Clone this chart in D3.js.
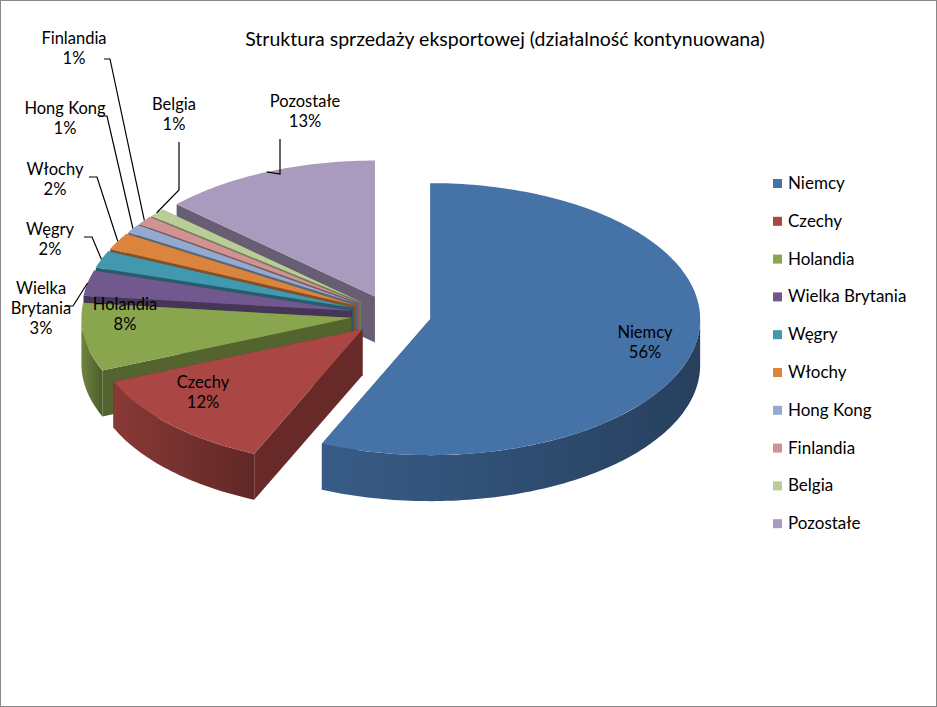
<!DOCTYPE html>
<html><head><meta charset="utf-8">
<script src="https://cdn.jsdelivr.net/npm/d3@7"></script>
<style>body{margin:0;background:#fff}svg{font-family:Lato,"Open Sans",sans-serif}</style>
</head><body><svg id="c" width="937" height="707"></svg>
<script>
const categories=["Niemcy","Czechy","Holandia","Wielka Brytania","Węgry","Włochy","Hong Kong","Finlandia","Belgia","Pozostałe"];
const values=[56,12,8,3,2,2,1,1,1,13];
const colors=["#4572a7","#aa4643","#89a54e","#71588f","#4198af","#db843d","#93a9cf","#d19392","#b9cd96","#a99bbd"];
const labelText=["Niemcy\n56%","Czechy\n12%","Holandia\n8%","Wielka\nBrytania\n3%","Węgry\n2%","Włochy\n2%","Hong Kong\n1%","Finlandia\n1%","Belgia\n1%","Pozostałe\n13%"];
const labelPos=[[645,338],[203,388],[125,310],[41,294],[50,235],[55,175],[65,114],[74,44],[174,110],[305,107]];
const inside=[true,true,true,false,false,false,false,false,false,false];

const svg=d3.select("#c");
svg.append("rect").attr("x",0.5).attr("y",0.5).attr("width",936).attr("height",706).attr("fill","#fff").attr("stroke","#888");
svg.append("text").attr("x",505).attr("y",46).attr("text-anchor","middle").attr("font-size",19.5).text("Struktura sprzedaży eksportowej (działalność kontynuowana)");

const cx=391,cy=315,rx=270,ry=136,depth=46,expl=40;
const total=d3.sum(values);
const pie=d3.pie().sort(null).value(d=>d)(values.map(v=>v/total*99));
const P=(ox,oy,t,dz=0)=>[ox+rx*Math.sin(t),oy-ry*Math.cos(t)+dz];
const darker=(c,k)=>d3.color(c).darker(k).toString();
const slices=pie.map((p,i)=>{
  const mid=(p.startAngle+p.endAngle)/2;
  const ox=cx+expl*Math.sin(mid), oy=cy-expl*(ry/rx)*Math.cos(mid);
  return {i,a0:p.startAngle,a1:p.endAngle,mid,ox,oy};
});
function arcPts(s,a0,a1,dz){const n=Math.max(2,Math.ceil((a1-a0)/0.02));return d3.range(n+1).map(k=>P(s.ox,s.oy,a0+(a1-a0)*k/n,dz));}
const line=d3.line();
const g=svg.append("g");
const order=slices.slice().sort((a,b)=>(a.oy-ry*Math.cos(a.mid)*0.5)-(b.oy-ry*Math.cos(b.mid)*0.5));
order.forEach(s=>{
  const c=colors[s.i];
  const C=[s.ox,s.oy],Cb=[s.ox,s.oy+depth];
  [s.a0,s.a1].forEach(a=>{
    const e=P(s.ox,s.oy,a),eb=P(s.ox,s.oy,a,depth);
    g.append("path").attr("d",line([C,e,eb,Cb])+"Z").attr("fill",darker(c,1.4));
  });
  const lo=Math.max(s.a0,Math.PI/2),hi=Math.min(s.a1,3*Math.PI/2);
  if(hi>lo){
    const top=arcPts(s,lo,hi,0),bot=arcPts(s,lo,hi,depth).reverse();
    const gid="gw"+s.i;
    const gr=svg.append("defs").append("linearGradient").attr("id",gid).attr("x1",0).attr("x2",1);
    gr.append("stop").attr("offset",0).attr("stop-color",darker(c,0.6));
    gr.append("stop").attr("offset",1).attr("stop-color",darker(c,1.6));
    g.append("path").attr("d",line(top.concat(bot))+"Z").attr("fill",`url(#${gid})`);
  }
  g.append("path").attr("d",line([C].concat(arcPts(s,s.a0,s.a1,0)))+"Z").attr("fill",c);
});
slices.forEach(s=>{
  const [lx,ly]=labelPos[s.i];
  const t=svg.append("text").attr("x",lx).attr("y",ly).attr("text-anchor","middle").attr("font-size",16.5).attr("fill","#000");
  labelText[s.i].split("\n").forEach((l,k)=>t.append("tspan").attr("x",lx).attr("dy",k?20:0).text(l));
  if(!inside[s.i]){
    const e=P(s.ox,s.oy,s.mid);
    const n=labelText[s.i].split("\n").length;
    let sx,sy,kx,ky;
    if(s.i===9){sx=lx-25;sy=ly+32;kx=sx;ky=sy+35;}
    else if(s.i===8){sx=lx+5;sy=ly+32;kx=sx;ky=sy+48;}
    else if(s.i===7){sx=lx+30;sy=ly+15;kx=sx+6;ky=sy;}
    else {sx=lx+(s.i===3?24:34);sy=ly-8+(n-1)*10;kx=sx+8;ky=sy;}
    svg.append("path").attr("d",line([[sx,sy],[kx,ky],e])).attr("fill","none").attr("stroke","#000").attr("stroke-width",1.2);
  }
});
const lg=svg.append("g");
categories.forEach((c,i)=>{
  const y=183+i*37.8;
  lg.append("rect").attr("x",773).attr("y",y-4).attr("width",9).attr("height",9).attr("fill",colors[i]);
  lg.append("text").attr("x",788).attr("y",y+6).attr("font-size",17).text(c);
});
</script></body></html>
